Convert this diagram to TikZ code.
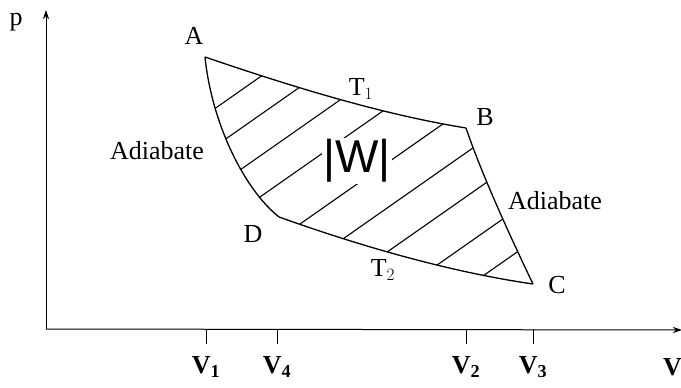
\documentclass[tikz,border=0pt]{standalone}
\usepackage{fontspec}
\setmainfont{Liberation Serif}
\newfontfamily\handfont{Liberation Sans}
\usetikzlibrary{arrows.meta}
\begin{document}
\begin{tikzpicture}[x=1pt,y=-1pt,
  lbl/.style={font=\fontsize{26}{30}\selectfont, inner sep=0pt},
  vlbl/.style={font=\fontsize{26}{30}\selectfont\bfseries, inner sep=0pt},
  axis/.style={line width=1pt, -{Stealth[length=9pt,width=6pt]}},
  curve/.style={line width=1.3pt},
  hatch/.style={line width=1.1pt},
  tick/.style={line width=1pt}]
\useasboundingbox (0,0) rectangle (681,388);
% axes
\coordinate (O) at (46,329);
\coordinate (ytip) at (46,10);
\coordinate (xtip) at (682,330);
\draw[axis] (O) -- (ytip);
\draw[axis] (O) -- (xtip);
\node[lbl] (p) at (16,22) {p};
% ticks
\foreach \n/\x/\s in {v1/206/1, v4/277/4, v2/466/2, v3/533/3}{
  \coordinate (\n top) at (\x,329);
  \coordinate (\n bot) at (\x,344);
  \draw[tick] (\n top) -- (\n bot);
  \node[vlbl] (\n) at (\x,367) {V$_{\mathbf{\s}}$};
}
\node[vlbl, anchor=west] (V) at (663,367) {V};
% cycle points
\coordinate (A) at (205,57);
\coordinate (B) at (466,128);
\coordinate (C) at (533,284);
\coordinate (D) at (279,217);
% hatching
\begin{scope}
  \clip (A) .. controls (290,86) and (380,114) .. (B)
        .. controls (482,175) and (510,236) .. (C)
        .. controls (450,272) and (360,246) .. (D)
        .. controls (245,190) and (212,125) .. cycle;
  \foreach \b in {259,297,338,379,434,479,523,571,614}{
    \draw[hatch] (150,{\b-0.7*150}) -- (600,{\b-0.7*600});
  }
\end{scope}
% curves
\draw[curve] (A) .. controls (290,86) and (380,114) .. (B);
\draw[curve] (B) .. controls (482,175) and (510,236) .. (C);
\draw[curve] (D) .. controls (360,246) and (450,272) .. (C);
\draw[curve] (A) .. controls (212,125) and (245,190) .. (D);
% labels
\node[lbl] (Al) at (194,36) {A};
\node[lbl] (Bl) at (485,117) {B};
\node[lbl] (Cl) at (557,285) {C};
\node[lbl] (Dl) at (253,234) {D};
\node[lbl] (T1) at (361,89) {T$_1$};
\node[lbl] (T2) at (383,270) {T$_2$};
\node[lbl] (ad1) at (157,151) {Adiabate};
\node[lbl] (ad2) at (555,201) {Adiabate};
\node[fill=white, inner sep=1pt, font=\handfont\fontsize{46}{50}\selectfont] (W) at (357,161) {|W|};
\end{tikzpicture}
\end{document}
